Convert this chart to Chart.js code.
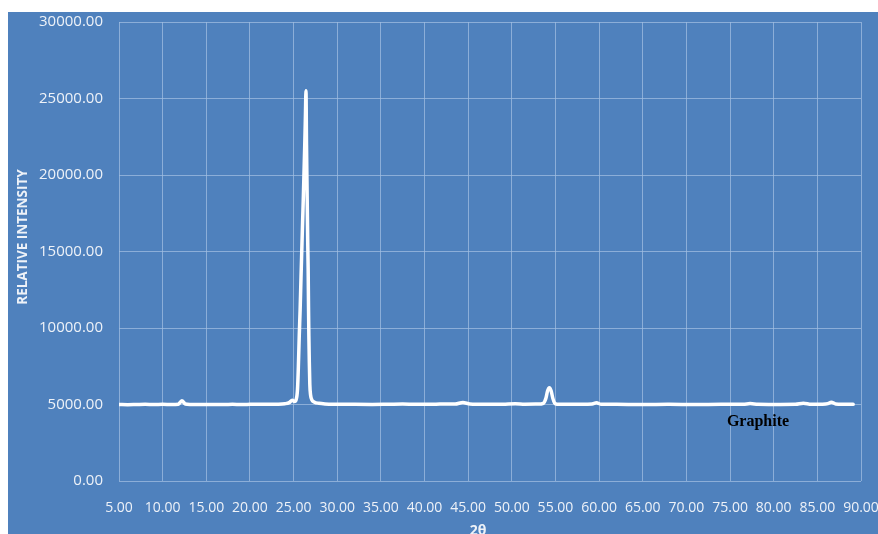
<!DOCTYPE html>
<html>
<head>
<meta charset="utf-8">
<script src="https://cdn.jsdelivr.net/npm/chart.js@4/dist/chart.umd.min.js"></script>
<style>
  html, body { margin: 0; padding: 0; background: #ffffff; }
  #wrap { position: relative; width: 878px; height: 534px; }
  canvas { display: block; }
</style>
</head>
<body>
<div id="wrap"><canvas id="xrd" width="878" height="534"></canvas></div>
<script>
// Diffraction angle 2θ (degrees)
const twoTheta = [
  5.0, 6.0, 7.0, 8.0, 9.0, 10.0, 11.0, 11.8, 12.2, 12.6, 13.2, 14.0, 15.0, 16.0,
  17.0, 18.0, 19.0, 20.0, 21.0, 22.0, 23.0, 24.0, 24.5, 24.85, 25.1, 25.3, 25.45,
  25.55, 25.65, 25.75, 25.85, 25.95, 26.03, 26.12, 26.2, 26.28, 26.36, 26.42,
  26.48, 26.55, 26.62, 26.67, 26.71, 26.75, 26.8, 26.86, 26.95, 27.1, 27.4, 27.9,
  28.6, 30.0, 32.0, 34.0, 36.0, 37.5, 39.0, 41.0, 42.5, 43.5, 44.4, 45.2, 47.0,
  49.0, 50.4, 51.5, 53.0, 53.6, 53.9, 54.1, 54.3, 54.5, 54.7, 54.9, 55.2, 56.0,
  58.0, 59.2, 59.7, 60.2, 62.0, 65.0, 68.0, 71.0, 74.0, 76.5, 77.3, 78.2, 80.0,
  82.5, 83.4, 84.3, 85.5, 86.2, 86.6, 87.1, 88.0, 89.1
];

// Relative intensity (counts)
const intensity = [
  5000, 4990, 5000, 5010, 5005, 5010, 5000, 5020, 5250, 5030, 5000, 4995, 5000, 5005,
  5000, 5010, 5000, 5010, 5020, 5010, 5020, 5050, 5120, 5280, 5200, 5330, 6000,
  7500, 9500, 11200, 13300, 15300, 16900, 18600, 20300, 22000, 24000, 25500,
  22000, 18800, 15600, 13800, 11400, 9500, 7800, 6300, 5600, 5300, 5150, 5080,
  5040, 5020, 5010, 5005, 5020, 5030, 5010, 5010, 5040, 5030, 5130, 5030, 5010,
  5020, 5050, 5020, 5030, 5080, 5400, 5900, 6100, 5900, 5400, 5100, 5020, 5010,
  5010, 5030, 5110, 5020, 5010, 5005, 5010, 5000, 5010, 5010, 5060, 5010, 5000,
  5010, 5080, 5010, 5020, 5060, 5150, 5040, 5020, 5010
];

const xTicks = [5, 10, 15, 20, 25, 30, 35, 40, 45, 50, 55, 60, 65, 70, 75, 80, 85, 90];
const yTicks = [0, 5000, 10000, 15000, 20000, 25000, 30000];

const points = twoTheta.map((t, i) => ({ x: t, y: intensity[i] }));

const BLUE = '#4f81bd';
const GRID = 'rgba(160, 190, 225, 0.75)';
const TEXT = '#eef2f8';

// Panel background, y-axis title, sample label and x-axis title
const decor = {
  id: 'decor',
  beforeDraw(chart) {
    const ctx = chart.ctx;
    ctx.save();
    ctx.fillStyle = '#ffffff';
    ctx.fillRect(0, 0, chart.width, chart.height);
    ctx.fillStyle = BLUE;
    ctx.fillRect(8, 12, chart.width - 8, chart.height - 12);
    ctx.restore();
  },
  afterDraw(chart) {
    const ctx = chart.ctx;
    const xs = chart.scales.x, ys = chart.scales.y;
    ctx.save();
    // y-axis title
    ctx.fillStyle = TEXT;
    ctx.font = 'bold 13.5px "Open Sans", sans-serif';
    ctx.textAlign = 'center';
    ctx.textBaseline = 'middle';
    ctx.translate(23, 237);
    ctx.rotate(-Math.PI / 2);
    ctx.fillText('RELATIVE INTENSITY', 0, 0);
    ctx.restore();

    ctx.save();
    // x-axis title
    ctx.fillStyle = TEXT;
    ctx.font = 'bold 14px "Open Sans", sans-serif';
    ctx.textAlign = 'center';
    ctx.textBaseline = 'middle';
    ctx.fillText('2θ', 478, 531);
    // sample label
    ctx.fillStyle = '#000000';
    ctx.font = 'bold 16px "Liberation Serif", "Times New Roman", serif';
    ctx.fillText('Graphite', xs.getPixelForValue(78.2), ys.getPixelForValue(3850));
    ctx.restore();
  }
};

new Chart(document.getElementById('xrd'), {
  type: 'scatter',
  data: {
    datasets: [{
      data: points,
      showLine: true,
      borderColor: '#ffffff',
      backgroundColor: '#ffffff',
      borderWidth: 3.5,
      pointRadius: 0,
      cubicInterpolationMode: 'monotone',
      borderCapStyle: 'round',
      borderJoinStyle: 'round'
    }]
  },
  options: {
    responsive: false,
    animation: false,
    layout: { padding: { left: 0, top: 22, right: 17, bottom: 0 } },
    plugins: { legend: { display: false }, tooltip: { enabled: false } },
    scales: {
      x: {
        type: 'linear',
        min: 5, max: 90,
        afterBuildTicks(scale) { scale.ticks = xTicks.map(v => ({ value: v })); },
        afterFit(scale) {
          scale.height = 53;
          scale.paddingLeft = 0;
          scale.paddingRight = 0;
        },
        grid: { color: GRID, lineWidth: 1, drawTicks: false },
        border: { display: false },
        ticks: {
          color: TEXT,
          font: { family: '"Open Sans", sans-serif', size: 14 },
          padding: 19,
          maxRotation: 0,
          autoSkip: false,
          callback: v => Number(v).toFixed(2)
        }
      },
      y: {
        min: 0, max: 30000,
        afterBuildTicks(scale) { scale.ticks = yTicks.map(v => ({ value: v })); },
        afterFit(scale) {
          scale.width = 119;
          scale.paddingTop = 0;
          scale.paddingBottom = 0;
        },
        grid: { color: GRID, lineWidth: 1, drawTicks: false },
        border: { display: false },
        ticks: {
          color: TEXT,
          font: { family: '"Open Sans", sans-serif', size: 15 },
          padding: 16,
          callback: v => Number(v).toFixed(2)
        }
      }
    }
  },
  plugins: [decor]
});
</script>
</body>
</html>
